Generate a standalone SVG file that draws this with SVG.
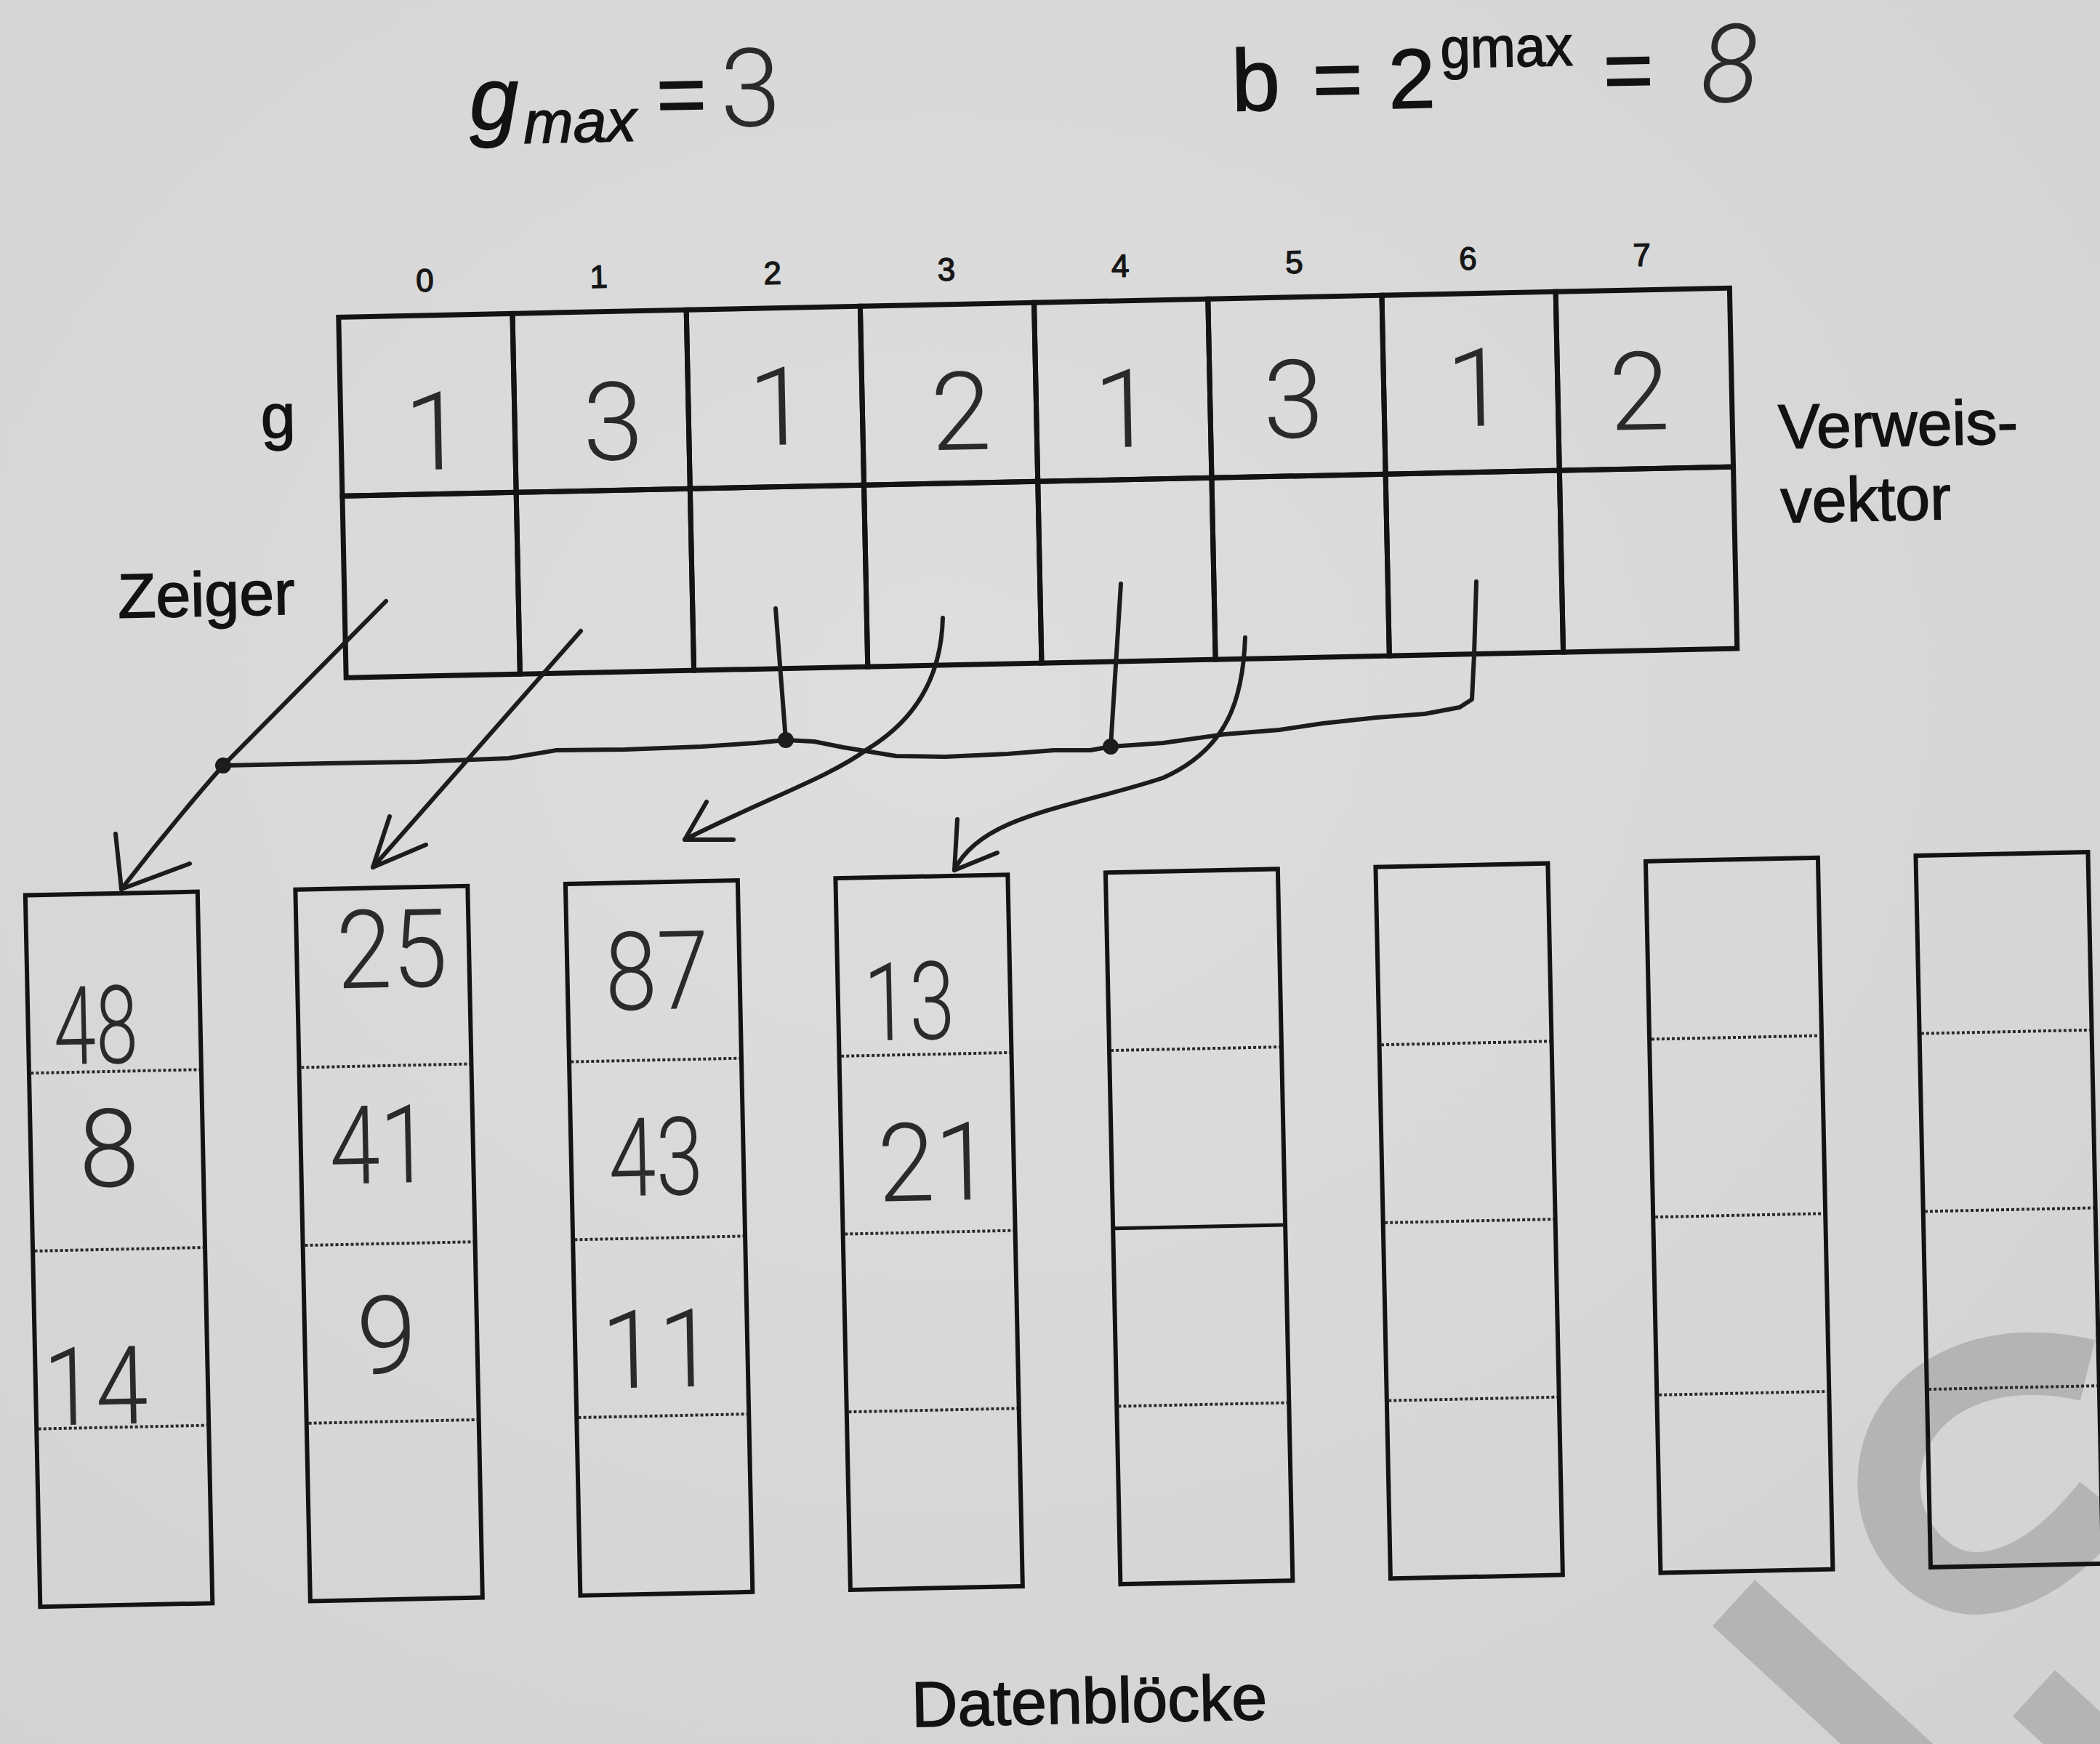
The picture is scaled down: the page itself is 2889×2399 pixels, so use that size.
<svg xmlns="http://www.w3.org/2000/svg" width="2889" height="2399" viewBox="0 0 2889 2399">
<defs>
<radialGradient id="paper" cx="0.45" cy="0.4" r="0.8">
<stop offset="0" stop-color="#dedede"/>
<stop offset="1" stop-color="#d2d2d2"/>
</radialGradient>
</defs>
<style>
.lbl{font-family:"Liberation Sans",Arial,sans-serif;fill:#121212;stroke:#121212;stroke-width:1.6}
.idx{font-family:"Liberation Sans",Arial,sans-serif;fill:#161616;stroke:#161616;stroke-width:1.4;font-size:44px;text-anchor:middle}
.hw{font-family:Roboto,"Liberation Sans",Arial,sans-serif;font-weight:300;fill:#2a2a2a;font-size:150px;text-anchor:middle}
.cell{fill:none;stroke:#131313;stroke-width:7}
.blk{fill:none;stroke:#131313;stroke-width:6}
.dot{stroke:#2a2a2a;stroke-width:4;stroke-dasharray:4 3}
.sol{stroke:#151515;stroke-width:5}
.con{fill:none;stroke:#1c1c1c;stroke-width:6;stroke-linecap:round;stroke-linejoin:round}
.wm{fill:none;stroke:#b4b4b4;stroke-width:86;stroke-linecap:butt}
</style>
<rect width="2889" height="2399" fill="url(#paper)"/>
<g id="watermark">
<path class="wm" d="M2872,1885 C2760,1858 2650,1890 2610,1980 C2570,2080 2640,2180 2720,2178 C2790,2176 2850,2122 2895,2065"/>
<path class="wm" d="M2385,2205 L2660,2458" stroke-width="80"/>
<path class="wm" d="M2798,2329 L2960,2478" stroke-width="84"/>
</g>
<g transform="rotate(-1.2 1444 1200)">
<g id="formula-gmax">
<text class="lbl" x="668" y="162" font-size="122" font-style="italic">g</text>
<text class="lbl" x="742" y="182" font-size="82" font-style="italic">max</text>
<text class="lbl" x="960" y="160" font-size="118" text-anchor="middle">=</text>
<text class="hw" x="1055" y="165" font-size="155">3</text>
</g>
<g id="formula-b">
<text class="lbl" x="1717" y="158" font-size="120">b</text>
<text class="lbl" x="1863" y="158" font-size="118" text-anchor="middle">=</text>
<text class="lbl" x="1965" y="159" font-size="116" text-anchor="middle">2</text>
<text class="lbl" x="2005" y="105" font-size="78" textLength="182" lengthAdjust="spacingAndGlyphs">gmax</text>
<text class="lbl" x="2263" y="154" font-size="118" text-anchor="middle">=</text>
<text class="hw" x="2402" y="160" font-size="150" font-style="italic">8</text>
</g>
<g id="labels">
<text class="lbl" x="372" y="580" font-size="86">g</text>
<text class="lbl" x="170" y="823" font-size="86">Zeiger</text>
<text class="lbl" x="2459" y="638" font-size="86">Verweis-</text>
<text class="lbl" x="2460" y="740" font-size="86">vektor</text>
<text class="lbl" x="1230" y="2371" font-size="88">Datenblöcke</text>
</g>
<g id="verweisvektor">
<g id="cell-0"><text class="idx" x="601.6" y="383">0</text><rect class="cell" x="482" y="416" width="239.25" height="246"/><rect class="cell" x="482" y="662" width="239.25" height="250"/><text class="hw" x="610.7" y="628">1</text></g>
<g id="cell-1"><text class="idx" x="840.9" y="383">1</text><rect class="cell" x="721.25" y="416" width="239.25" height="246"/><rect class="cell" x="721.25" y="662" width="239.25" height="250"/><text class="hw" x="856.4" y="620">3</text></g>
<g id="cell-2"><text class="idx" x="1080.1" y="383">2</text><rect class="cell" x="960.5" y="416" width="239.25" height="246"/><rect class="cell" x="960.5" y="662" width="239.25" height="250"/><text class="hw" x="1084.4" y="604">1</text></g>
<g id="cell-3"><text class="idx" x="1319.4" y="383">3</text><rect class="cell" x="1199.75" y="416" width="239.25" height="246"/><rect class="cell" x="1199.75" y="662" width="239.25" height="250"/><text class="hw" x="1335.3" y="616">2</text></g>
<g id="cell-4"><text class="idx" x="1558.6" y="383">4</text><rect class="cell" x="1439" y="416" width="239.25" height="246"/><rect class="cell" x="1439" y="662" width="239.25" height="250"/><text class="hw" x="1559.7" y="617">1</text></g>
<g id="cell-5"><text class="idx" x="1797.9" y="383">5</text><rect class="cell" x="1678.25" y="416" width="239.25" height="246"/><rect class="cell" x="1678.25" y="662" width="239.25" height="250"/><text class="hw" x="1792.7" y="609">3</text></g>
<g id="cell-6"><text class="idx" x="2037.1" y="383">6</text><rect class="cell" x="1917.5" y="416" width="239.25" height="246"/><rect class="cell" x="1917.5" y="662" width="239.25" height="250"/><text class="hw" x="2045" y="598">1</text></g>
<g id="cell-7"><text class="idx" x="2276.4" y="383">7</text><rect class="cell" x="2156.75" y="416" width="239.25" height="246"/><rect class="cell" x="2156.75" y="662" width="239.25" height="250"/><text class="hw" x="2269" y="608">2</text></g>
</g>
<g id="block-1">
<rect class="blk" x="34.5" y="1202" width="237" height="979"/>
<line class="dot" x1="37" y1="1446.75" x2="269" y2="1446.75"/>
<line class="dot" x1="37" y1="1691.5" x2="269" y2="1691.5"/>
<line class="dot" x1="37" y1="1936.25" x2="269" y2="1936.25"/>
<text class="hw" x="127.6" y="1435.5" textLength="116" lengthAdjust="spacingAndGlyphs">48</text>
<text class="hw" x="142" y="1605">8</text>
<text class="hw" x="117" y="1931.5" textLength="144" lengthAdjust="spacingAndGlyphs">14</text>
</g>
<g id="block-2">
<rect class="blk" x="406.1" y="1202" width="237" height="979"/>
<line class="dot" x1="409" y1="1446.75" x2="641" y2="1446.75"/>
<line class="dot" x1="409" y1="1691.5" x2="641" y2="1691.5"/>
<line class="dot" x1="409" y1="1936.25" x2="641" y2="1936.25"/>
<text class="hw" x="537" y="1339" textLength="153" lengthAdjust="spacingAndGlyphs">25</text>
<text class="hw" x="515" y="1608" textLength="139" lengthAdjust="spacingAndGlyphs">41</text>
<text class="hw" x="518.7" y="1870">9</text>
</g>
<g id="block-3">
<rect class="blk" x="777.7" y="1202" width="237" height="979"/>
<line class="dot" x1="780" y1="1446.75" x2="1012" y2="1446.75"/>
<line class="dot" x1="780" y1="1691.5" x2="1012" y2="1691.5"/>
<line class="dot" x1="780" y1="1936.25" x2="1012" y2="1936.25"/>
<text class="hw" x="901" y="1376.7" textLength="143" lengthAdjust="spacingAndGlyphs">87</text>
<text class="hw" x="894" y="1632.7" textLength="130" lengthAdjust="spacingAndGlyphs">43</text>
<text class="hw" x="892" y="1896.7" textLength="157" lengthAdjust="spacingAndGlyphs">11</text>
</g>
<g id="block-4">
<rect class="blk" x="1149.3" y="1202" width="237" height="979"/>
<line class="dot" x1="1152" y1="1446.75" x2="1384" y2="1446.75"/>
<line class="dot" x1="1152" y1="1691.5" x2="1384" y2="1691.5"/>
<line class="dot" x1="1152" y1="1936.25" x2="1384" y2="1936.25"/>
<text class="hw" x="1247.3" y="1426" textLength="125" lengthAdjust="spacingAndGlyphs">13</text>
<text class="hw" x="1277.7" y="1647.7" textLength="157" lengthAdjust="spacingAndGlyphs">21</text>
</g>
<g id="block-5">
<rect class="blk" x="1520.9" y="1202" width="237" height="979"/>
<line class="dot" x1="1523" y1="1446.75" x2="1755" y2="1446.75"/>
<line class="sol" x1="1523" y1="1691.5" x2="1755" y2="1691.5"/>
<line class="dot" x1="1523" y1="1936.25" x2="1755" y2="1936.25"/>
</g>
<g id="block-6">
<rect class="blk" x="1892.5" y="1202" width="237" height="979"/>
<line class="dot" x1="1895" y1="1446.75" x2="2127" y2="1446.75"/>
<line class="dot" x1="1895" y1="1691.5" x2="2127" y2="1691.5"/>
<line class="dot" x1="1895" y1="1936.25" x2="2127" y2="1936.25"/>
</g>
<g id="block-7">
<rect class="blk" x="2264.1" y="1202" width="237" height="979"/>
<line class="dot" x1="2267" y1="1446.75" x2="2499" y2="1446.75"/>
<line class="dot" x1="2267" y1="1691.5" x2="2499" y2="1691.5"/>
<line class="dot" x1="2267" y1="1936.25" x2="2499" y2="1936.25"/>
</g>
<g id="block-8">
<rect class="blk" x="2635.7" y="1202" width="237" height="979"/>
<line class="dot" x1="2638" y1="1446.75" x2="2870" y2="1446.75"/>
<line class="dot" x1="2638" y1="1691.5" x2="2870" y2="1691.5"/>
<line class="dot" x1="2638" y1="1936.25" x2="2870" y2="1936.25"/>
</g>
</g>
<g id="connectors">
<path class="con" d="M531,827 L306,1054 Q235,1135 167,1223"/>
<path class="con" d="M159,1147 L167,1223 L261,1188"/>
<path class="con" d="M799,868 L513,1193"/>
<path class="con" d="M536,1123 L513,1193 L586,1162"/>
<path class="con" d="M307,1053 L450,1050 L574,1048 L700,1043 L765,1032 L860,1031 L965,1027 L1040,1022 L1081,1018 L1120,1020 L1160,1028 L1233,1040 L1300,1041 L1386,1037 L1450,1032 L1500,1032 L1528,1027 L1600,1022 L1685,1010 L1760,1004 L1820,995 L1894,987 L1960,982 L2008,973 L2025,962 L2028,900 L2031,800"/>
<path class="con" d="M1067,837 L1081,1018"/>
<path class="con" d="M1542,803 L1528,1027"/>
<path class="con" d="M1297,850 C1295,930 1260,990 1194,1030 C1140,1070 1050,1100 942,1155"/>
<path class="con" d="M972,1103 L942,1155 L1009,1155"/>
<path class="con" d="M1713,877 C1710,960 1690,1030 1600,1070 C1480,1110 1350,1120 1313,1197"/>
<path class="con" d="M1317,1127 L1313,1197 L1372,1173"/>
<circle cx="307" cy="1053" r="11" fill="#1c1c1c"/>
<circle cx="1081" cy="1018" r="11" fill="#1c1c1c"/>
<circle cx="1528" cy="1027" r="11" fill="#1c1c1c"/>
</g>
</svg>
